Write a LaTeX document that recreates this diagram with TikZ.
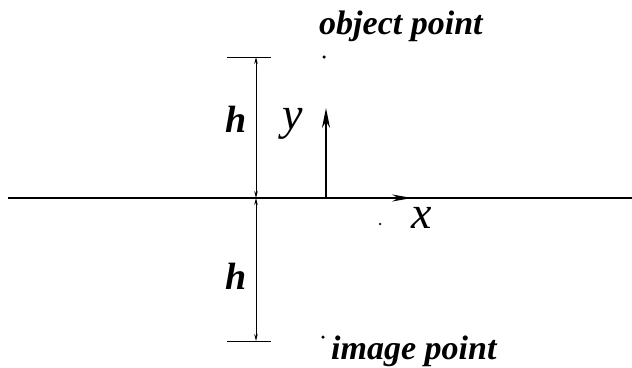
\documentclass[tikz,border=0pt]{standalone}
\usepackage{fontspec}
\setmainfont{Liberation Serif}
\usetikzlibrary{arrows.meta}
\begin{document}
\begin{tikzpicture}[x=1pt,y=-1pt,
  lbl/.style={font=\fontsize{34}{40}\selectfont\bfseries\itshape, inner sep=0pt},
  hlbl/.style={font=\fontsize{38}{40}\selectfont\bfseries\itshape, inner sep=0pt},
  axlbl/.style={font=\fontsize{46}{50}\selectfont\itshape, inner sep=0pt},
  dim/.style={line width=1pt, {Stealth[length=7,width=3.5]}-{Stealth[length=7,width=3.5]}},
  tick/.style={line width=1pt},
  dot/.style={circle, fill=black, inner sep=0pt, minimum size=3.5pt}]
\useasboundingbox (0,0) rectangle (632,367);
% coordinates
\coordinate (L) at (8,198);
\coordinate (R) at (632,198);
\coordinate (O) at (326,198);
\coordinate (Ytip) at (326,108);
\coordinate (D0) at (256,198);
\coordinate (Dt) at (256,57);
\coordinate (Db) at (256,341);
\coordinate (Tl) at (227,57);
\coordinate (Tr) at (271,57);
\coordinate (Bl) at (227,341);
\coordinate (Br) at (271,341);
\coordinate (Xtip) at (412,198);
% axis
\draw[line width=2pt] (L) -- (R);
\draw[line width=2pt, -{Stealth[length=20,width=7]}] (O) -- (Xtip);
\draw[line width=2pt, -{Stealth[length=20,width=8]}] (O) -- (Ytip);
% dimension
\draw[tick] (Tl) -- (Tr);
\draw[tick] (Bl) -- (Br);
\draw[dim] (Dt) -- (D0);
\draw[dim] (D0) -- (Db);
% labels
\node[hlbl] (h1) at (236,119) {h};
\node[hlbl] (h2) at (236,276) {h};
\node[axlbl] (ylab) at (293,124) {y};
\node[axlbl] (xlab) at (422,218) {x};
\node[lbl, anchor=base west] (obj) at (319,34) {object point};
\node[lbl, anchor=base west] (img) at (331,359) {image point};
% dots
\node[dot] (objdot) at (324,57) {};
\node[dot] (imgdot) at (323,337) {};
\node[dot, minimum size=2.5pt] (sdot) at (380,224) {};
\end{tikzpicture}
\end{document}
